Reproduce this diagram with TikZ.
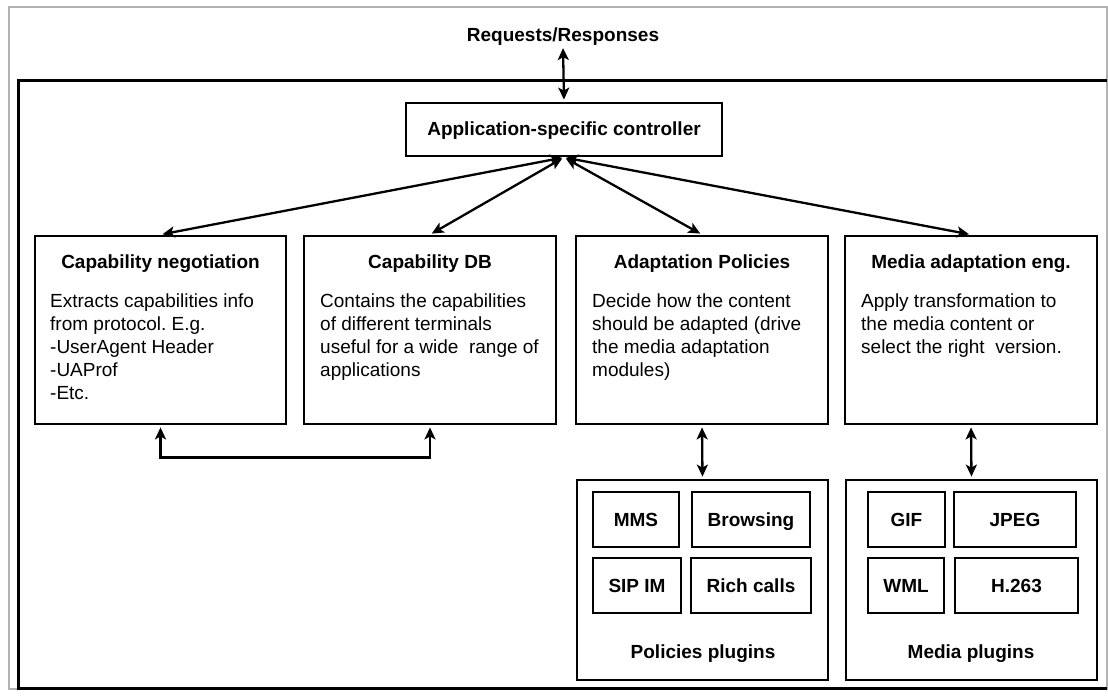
\documentclass[tikz,border=0pt]{standalone}
\usepackage{fontspec}
\setmainfont{Liberation Sans}
\usetikzlibrary{arrows.meta}

\begin{document}
\frenchspacing
\begin{tikzpicture}[x=1pt,y=-1pt,
            box/.style={draw, line width=2.8pt, inner sep=0pt},
            plug/.style={draw, line width=2.3pt, inner sep=0pt, minimum height=55pt, text height=13.7pt, text depth=0pt, font=\bfseries\fontsize{19}{23}\selectfont},
            ttl/.style={inner sep=0pt, font=\bfseries\fontsize{19}{23}\selectfont},
            txt/.style={inner sep=0pt, anchor=north west, align=left, font=\fontsize{19}{23}\selectfont},
            link/.style={line width=2.3pt, shorten <=2pt, shorten >=2pt, {Stealth[length=12pt,width=11pt,inset=3pt]}-{Stealth[length=12pt,width=11pt,inset=3pt]}}]
        \useasboundingbox (0,0) rectangle (1108,696);
        \draw[gray!60, line width=1.2pt] (9,7) rectangle (1107,689);
        \draw[line width=3pt] (1107,80) -- (18,80) -- (18,688) -- (1107,688);

        \node[ttl] (req) at (563,37) {Requests/Responses};
        \node[box, minimum width=316pt, minimum height=53pt] (ctrl) at (564,129.5) {};
        \node[ttl] (ctrlT) at (564,131) {Application-specific controller};

        \node[box, minimum width=251pt, minimum height=188pt] (capneg) at (160.5,330) {};
        \node[box, minimum width=252pt, minimum height=188pt] (capdb) at (430,330) {};
        \node[box, minimum width=252pt, minimum height=188pt] (adpol) at (702,330) {};
        \node[box, minimum width=252pt, minimum height=188pt] (mediaeng) at (971,330) {};

        \node[ttl] (capnegT) at (capneg.north |- 0,264) {Capability negotiation};
        \node[ttl] (capdbT) at (capdb.north |- 0,264) {Capability DB};
        \node[ttl] (adpolT) at (adpol.north |- 0,264) {Adaptation Policies};
        \node[ttl] (mediaengT) at (mediaeng.north |- 0,264) {Media adaptation eng.};

        \node[txt] (capnegB) at (50,294) {Extracts capabilities info\\from protocol. E.g.\\-UserAgent Header\\-UAProf\\-Etc.};
        \node[txt] (capdbB) at (320,294) {Contains the capabilities\\of different terminals\\useful for a wide~ range of\\applications};
        \node[txt] (adpolB) at (592,294) {Decide how the content\\should be adapted (drive\\the media adaptation\\modules)};
        \node[txt] (mediaengB) at (861,294) {Apply transformation to\\the media content or\\select the right~ version.};

        \node[box, minimum width=251pt, minimum height=200pt] (polplug) at (702.5,580) {};
        \node[box, minimum width=251pt, minimum height=200pt] (medplug) at (971.5,580) {};
        \node[ttl] (polplugT) at (703,654) {Policies plugins};
        \node[ttl] (medplugT) at (971,654) {Media plugins};

        \node[plug, minimum width=86pt] (mms) at (636,519.5) {MMS};
        \node[plug, minimum width=118pt] (browsing) at (751,519.5) {Browsing};
        \node[plug, minimum width=88pt] (sipim) at (637,585.5) {SIP IM};
        \node[plug, minimum width=120pt] (rich) at (751,585.5) {Rich calls};
        \node[plug, minimum width=77pt] (gif) at (906.5,519.5) {GIF};
        \node[plug, minimum width=122pt] (jpeg) at (1015,519.5) {JPEG};
        \node[plug, minimum width=76pt] (wml) at (906,585.5) {WML};
        \node[plug, minimum width=123pt] (h263) at (1016.5,585.5) {H.263};

        \draw[link] (req.south) -- (ctrl.north);
        \draw[link] (ctrl.south) -- (capneg.north);
        \draw[link] (ctrl.south) -- (capdb.north);
        \draw[link] (ctrl.south) -- (adpol.north);
        \draw[link] (ctrl.south) -- (mediaeng.north);
        \draw[link] (capneg.south) -- ++(0,32) -| (capdb.south);
        \draw[link] (adpol.south) -- (polplug.north);
        \draw[link] (mediaeng.south) -- (medplug.north);
    \end{tikzpicture}
\end{document}
